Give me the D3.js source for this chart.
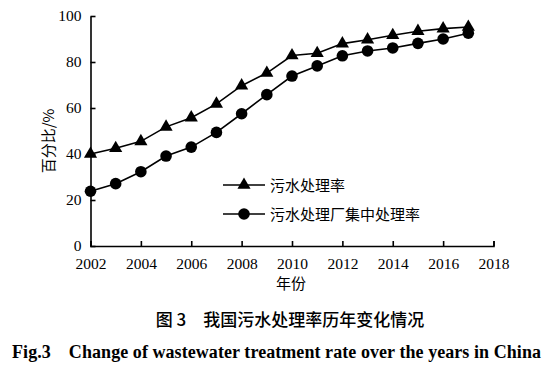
<!DOCTYPE html>
<html><head><meta charset="utf-8">
<script src="https://cdn.jsdelivr.net/npm/d3@7/dist/d3.min.js"></script>
<style>body{margin:0;background:#fff}</style>
</head><body>
<script>
const years = [2002,2003,2004,2005,2006,2007,2008,2009,2010,2011,2012,2013,2014,2015,2016,2017];
const sewageRate = [40,42.5,45.5,51.8,55.8,61.8,69.7,75.2,82.8,83.8,88,89.7,91.6,93.4,94.5,95.2];
const plantRate = [23.8,27.1,32.3,39.1,43,49.4,57.5,65.8,73.9,78.3,82.7,84.8,86.1,88.1,90,92.5];
const xTicks = [2002,2004,2006,2008,2010,2012,2014,2016,2018];
const yTicks = [0,20,40,60,80,100];
const seriesNames = ["污水处理率","污水处理厂集中处理率"];

const W=556,H=369;
const svg=d3.select("body").append("svg").attr("width",W).attr("height",H);
const x=d3.scaleLinear().domain([2002,2018]).range([90.5,493.5]);
const y=d3.scaleLinear().domain([0,100]).range([246,16]);
const serif="'Liberation Serif','Times New Roman',serif";
const cjk="'Noto Sans CJK SC',sans-serif";

const gx=svg.append("g").attr("transform","translate(0,246)")
  .call(d3.axisBottom(x).tickValues(xTicks).tickFormat(d3.format("d")).tickSizeInner(-5).tickSizeOuter(-5).tickPadding(12));
const gy=svg.append("g").attr("transform","translate(90.5,0)")
  .call(d3.axisLeft(y).tickValues(yTicks).tickSizeInner(-5).tickSizeOuter(0).tickPadding(9));
[gx,gy].forEach(g=>{
  g.selectAll("path,line").attr("stroke","#000").attr("stroke-width",1.6);
  g.selectAll("text").attr("font-family",serif).attr("font-size",15.5).attr("fill","#000");
});

const line=d3.line().x((d,i)=>x(years[i])).y(d=>y(d));
svg.append("path").datum(sewageRate).attr("d",line).attr("fill","none").attr("stroke","#000").attr("stroke-width",1.6);
svg.append("path").datum(plantRate).attr("d",line).attr("fill","none").attr("stroke","#000").attr("stroke-width",1.6);

const tri=d3.symbol().type(d3.symbolTriangle).size(75);
svg.selectAll(".tri").data(sewageRate).join("path")
  .attr("d",tri).attr("transform",(d,i)=>`translate(${x(years[i])},${y(d)})`).attr("fill","#000");
svg.selectAll(".cir").data(plantRate).join("circle")
  .attr("cx",(d,i)=>x(years[i])).attr("cy",d=>y(d)).attr("r",5.8).attr("fill","#000");

// legend
const lg=svg.append("g");
[0,1].forEach(k=>{
  const yy=185+k*29;
  lg.append("line").attr("x1",223).attr("x2",265).attr("y1",yy).attr("y2",yy).attr("stroke","#000").attr("stroke-width",1.6);
  if(k===0) lg.append("path").attr("d",tri).attr("transform",`translate(244,${yy})`);
  else lg.append("circle").attr("cx",244).attr("cy",yy).attr("r",5.8);
  lg.append("text").attr("x",270).attr("y",yy+5.5).attr("font-family",cjk).attr("font-size",15).text(seriesNames[k]);
});

svg.append("text").attr("transform","translate(54,141) rotate(-90)").attr("text-anchor","middle")
  .attr("font-family",cjk).attr("font-size",15).text("百分比/%");
svg.append("text").attr("x",291).attr("y",289).attr("text-anchor","middle")
  .attr("font-family",cjk).attr("font-size",15).text("年份");
svg.append("text").attr("x",290).attr("y",326).attr("text-anchor","middle")
  .attr("font-family",cjk).attr("font-size",17).attr("font-weight",500).text("图 3\u2003我国污水处理率历年变化情况");
svg.append("text").attr("x",12).attr("y",358).attr("textLength",529).attr("lengthAdjust","spacing")
  .attr("font-family",serif).attr("font-size",18).attr("font-weight","bold").text("Fig.3\u2003Change of wastewater treatment rate over the years in China");
</script>
</body></html>
